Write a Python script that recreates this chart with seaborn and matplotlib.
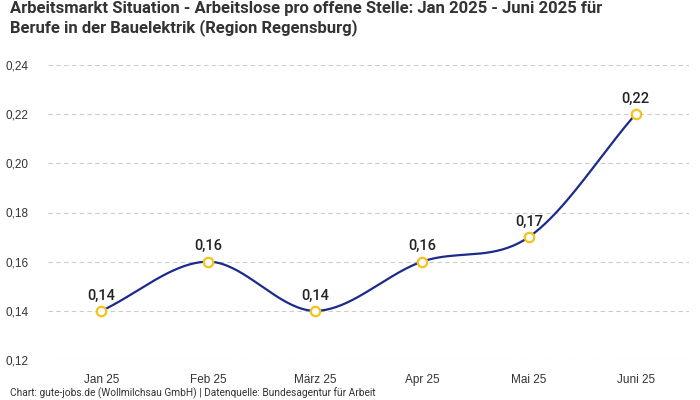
import numpy as np
import pandas as pd
import seaborn as sns
from matplotlib import pyplot as plt

# data
months = ["Jan 25", "Feb 25", "März 25", "Apr 25", "Mai 25", "Juni 25"]
ratio = [0.14, 0.16, 0.14, 0.16, 0.17, 0.22]
y_ticks = [0.12, 0.14, 0.16, 0.18, 0.20, 0.22, 0.24]

title = ("Arbeitsmarkt Situation - Arbeitslose pro offene Stelle: Jan 2025 - Juni 2025 für\n"
         "Berufe in der Bauelektrik (Region Regensburg)")
footer = "Chart: gute-jobs.de (Wollmilchsau GmbH) | Datenquelle: Bundesagentur für Arbeit"

LINE = "#1c2a8c"
MARKER = "#f5c21b"
TEXT = "#222222"


def catmull_rom(x, y, n=40):
    """Smooth curve through the points (like a spline series in web charts)."""
    x = np.asarray(x, float)
    y = np.asarray(y, float)
    m = np.zeros_like(y)
    m[1:-1] = (y[2:] - y[:-2]) / (x[2:] - x[:-2])
    m[0] = (y[1] - y[0]) / (x[1] - x[0])
    m[-1] = (y[-1] - y[-2]) / (x[-1] - x[-2])
    xs, ys = [], []
    for i in range(len(x) - 1):
        h = x[i + 1] - x[i]
        t = np.linspace(0, 1, n, endpoint=(i == len(x) - 2))
        h00 = 2 * t**3 - 3 * t**2 + 1
        h10 = t**3 - 2 * t**2 + t
        h01 = -2 * t**3 + 3 * t**2
        h11 = t**3 - t**2
        xs.append(x[i] + t * h)
        ys.append(h00 * y[i] + h10 * h * m[i] + h01 * y[i + 1] + h11 * h * m[i + 1])
    return np.concatenate(xs), np.concatenate(ys)


sns.set_theme(style="white")
plt.rcParams["font.family"] = ["Liberation Sans", "DejaVu Sans"]

df = pd.DataFrame({"pos": np.arange(len(months)), "month": months, "ratio": ratio})
cx, cy = catmull_rom(df["pos"], df["ratio"])
curve = pd.DataFrame({"x": cx, "y": cy})

fig = plt.figure(figsize=(7, 4), dpi=100)
ax = fig.add_axes([48 / 700, 40 / 400, 641 / 700, 295 / 400])

sns.lineplot(data=curve, x="x", y="y", ax=ax, color=LINE, linewidth=1.6, sort=False, zorder=3)
sns.scatterplot(data=df, x="pos", y="ratio", ax=ax, s=46, color="white",
                edgecolor=MARKER, linewidth=1.6, zorder=4)

for _, r in df.iterrows():
    ax.annotate(f"{r['ratio']:.2f}".replace(".", ","), (r["pos"], r["ratio"]),
                xytext=(0, 6), textcoords="offset points", ha="center", va="bottom",
                fontsize=10.5, fontweight="medium", color=TEXT, family=["Roboto", "DejaVu Sans"],
                zorder=5)

ax.set_xlim(-0.5, len(months) - 0.5)
ax.set_ylim(0.12, 0.24)
ax.set_xticks(df["pos"])
ax.set_xticklabels(months)
ax.set_yticks(y_ticks)
ax.set_yticklabels([f"{v:.2f}".replace(".", ",") for v in y_ticks])
ax.tick_params(axis="both", length=0, labelsize=8.5, labelcolor="#333333")
ax.tick_params(axis="y", pad=14)
ax.tick_params(axis="x", pad=10)
ax.set_xlabel("")
ax.set_ylabel("")
ax.yaxis.grid(True, color="#cccccc", linestyle=(0, (4, 3)), linewidth=0.8)
ax.xaxis.grid(False)
for s in ax.spines.values():
    s.set_visible(False)

fig.text(10 / 700, 1 - 1 / 400, title, ha="left", va="top", fontsize=12,
         fontweight="bold", color="#333333", family=["Roboto", "DejaVu Sans"], linespacing=1.2)
fig.text(10 / 700, 1 - 393 / 400, footer, ha="left", va="center", fontsize=7.3,
         color="#333333", family=["Roboto", "DejaVu Sans"])

fig.savefig("out.png", dpi=100)
